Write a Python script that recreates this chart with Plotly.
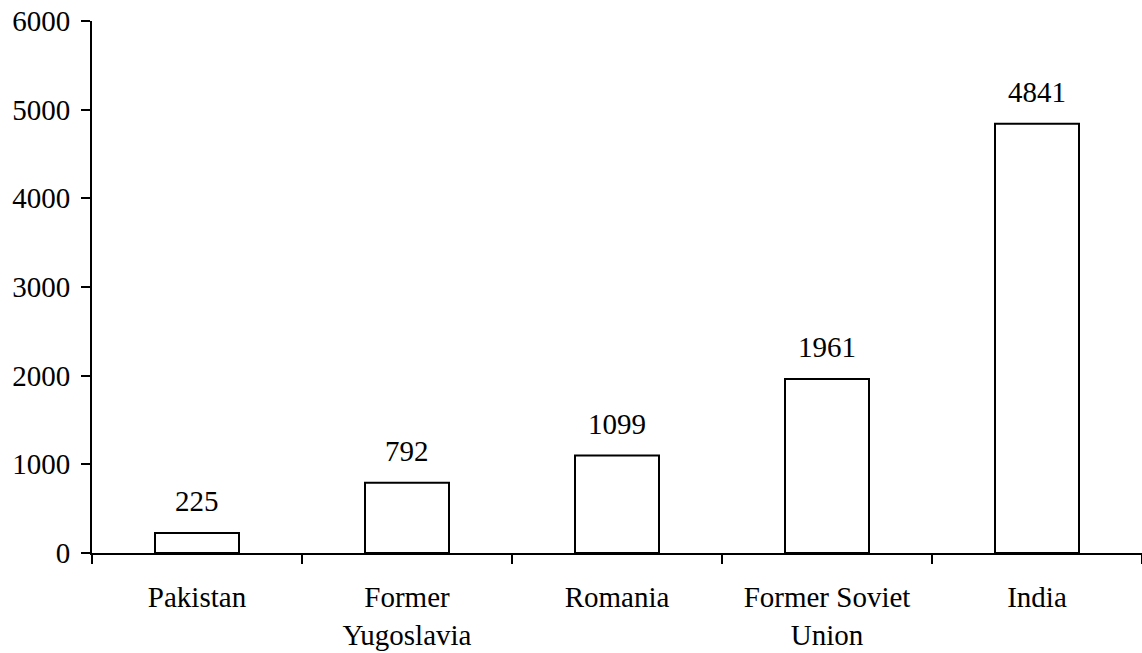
import plotly.graph_objects as go

categories = ["Pakistan", "Former<br>Yugoslavia", "Romania", "Former Soviet<br>Union", "India"]
values = [225, 792, 1099, 1961, 4841]
value_labels = [str(v) for v in values]

FONT = "Liberation Serif, Times New Roman, serif"

fig = go.Figure()
fig.add_trace(go.Bar(
    x=categories, y=values, width=0.4,
    marker=dict(color="white", line=dict(color="black", width=2)),
    hoverinfo="skip",
))
for c, v, t in zip(categories, values, value_labels):
    fig.add_annotation(x=c, y=v, text=t, showarrow=False, yanchor="bottom",
                       yshift=14, font=dict(family=FONT, size=29, color="black"))

fig.update_layout(
    width=1142, height=653,
    margin=dict(l=92, r=0, t=21, b=100),
    plot_bgcolor="white", paper_bgcolor="white",
    showlegend=False,
    font=dict(family=FONT, size=29, color="black"),
    bargap=0.6,
)
fig.update_xaxes(
    type="category", tickson="boundaries", ticks="outside", ticklen=9, tickwidth=2,
    tickcolor="black", showline=True, linecolor="black", linewidth=2,
    showgrid=False, zeroline=False, ticklabelstandoff=17, automargin=False,
    ticklabeloverflow="allow",
)
fig.update_yaxes(
    range=[0, 6000], tickvals=[0, 1000, 2000, 3000, 4000, 5000, 6000],
    ticks="outside", ticklen=9, tickwidth=2, tickcolor="black",
    showline=True, linecolor="black", linewidth=2, showgrid=False, zeroline=False,
    ticklabelstandoff=5, automargin=False, ticklabeloverflow="allow",
)
fig.write_html(
    "out.html",
    config={"displayModeBar": False},
    post_script="document.body.style.margin='0';document.body.style.overflow='hidden';",
)
